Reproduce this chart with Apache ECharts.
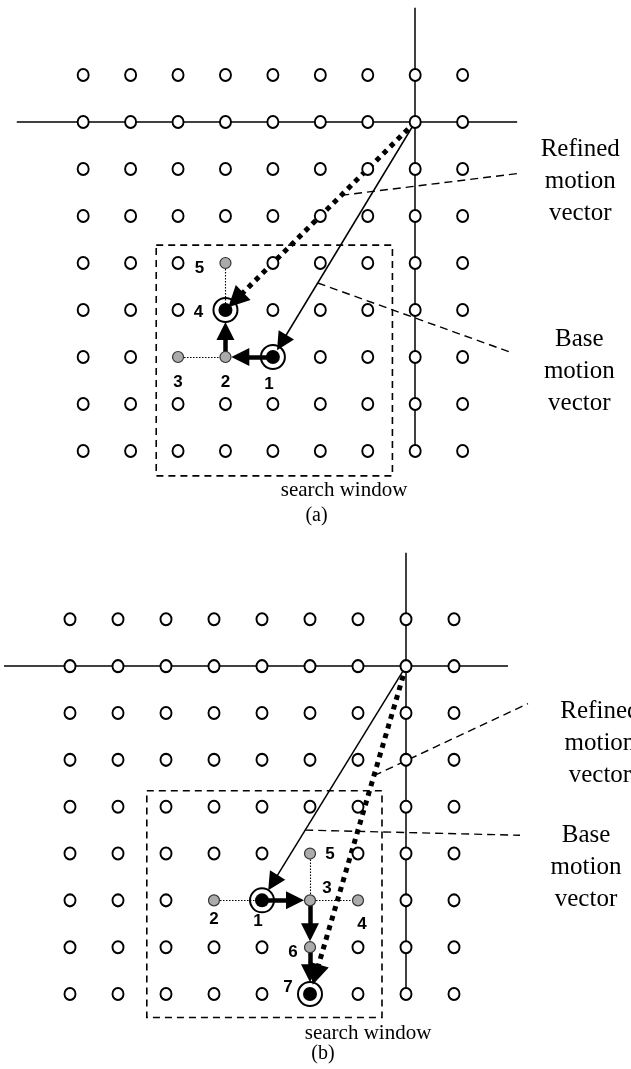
<!DOCTYPE html>
<html>
<head>
<meta charset="utf-8">
<script src="https://cdn.jsdelivr.net/npm/echarts@6/dist/echarts.min.js"></script>
<style>
html, body { margin: 0; padding: 0; background: #fff; }
#chart { width: 631px; height: 1069px; }
</style>
</head>
<body>
<div id="chart"></div>
<script>
// Integer-pel lattice shown in each panel (column / row indices)
const gridCols = [0, 1, 2, 3, 4, 5, 6, 7, 8];
const gridRows = [0, 1, 2, 3, 4, 5, 6, 7, 8];

// Zero-motion position, where the two reference lines cross
const originA = [7, 1];
const originB = [7, 1];

// Extent of the reference lines: [from, to] in lattice units
const hLineA = [-1.4, 9.15];
const vLineA = [-1.43, 8];
const hLineB = [-1.375, 9.125];
const vLineB = [-1.42, 8];

// Candidate positions checked during refinement, numbered in order
const candidatesA = [[4, 6], [3, 6], [2, 6], [3, 5], [3, 4]];
const candidateLabelsA = ['1', '2', '3', '4', '5'];
const candidatesB = [[4, 6], [3, 6], [5, 6], [6, 6], [5, 5], [5, 7], [5, 8]];
const candidateLabelsB = ['1', '2', '3', '4', '5', '6', '7'];

// Ringed candidates: base-vector target first, refined result second
const ringedA = [0, 3];
const ringedB = [0, 6];

// Accepted refinement steps (candidate index -> candidate index)
const movesA = [[0, 1], [1, 3]];
const movesB = [[0, 2], [2, 5], [5, 6]];

// Rejected probes, joined by thin dotted links
const probesA = [[2, 1], [4, 3]];
const probesB = [[1, 0], [2, 3], [4, 2]];

// Search window: [colMin, rowMin, colMax, rowMax]
const windowA = [1.54, 3.62, 6.52, 8.53];
const windowB = [1.6, 3.66, 6.5, 8.5];

// Label offsets of the candidate numbers [dx, dy] in px
const numberOffsetA = [[-4, 27], [0, 25], [0, 25], [-27, 2], [-26, 5]];
const numberOffsetB = [[-4, 21], [0, 19], [17, -12], [4, 24], [20, 1], [-17, 5], [-22, -7]];

// Callouts: fraction along the vector where the leader starts, leader end point
const calloutRefinedA = { t: 0.39, end: [9.21, 2.09], text: 'Refined\nmotion\nvector', at: [10.48, 2.26] };
const calloutBaseA = { t: 0.685, end: [9.04, 5.91], text: 'Base\nmotion\nvector', at: [10.46, 6.30] };
const calloutRefinedB = { t: 0.334, end: [9.54, 1.80], text: 'Refined\nmotion\nvector', at: [11.04, 2.64] };
const calloutBaseB = { t: 0.70, end: [9.375, 4.61], text: 'Base\nmotion\nvector', at: [10.75, 5.29] };

const captionA = { window: [5.5, 8.83], tag: '(a)', tagAt: [4.92, 9.38] };
const captionB = { window: [6.21, 8.85], tag: '(b)', tagAt: [5.27, 9.28] };

// Pixel size of one lattice step in each panel
const cellA = [48, 47];
const cellB = [48, 47.3];

const SERIF = "'Liberation Serif', 'Times New Roman', serif";
const SANS = "'Liberation Sans', Arial, sans-serif";

// Pull the end of a segment back by px pixels so an arrow head stops short of a marker
function pullBack(from, to, px, cell) {
  const dx = (to[0] - from[0]) * cell[0];
  const dy = (to[1] - from[1]) * cell[1];
  const len = Math.hypot(dx, dy);
  const k = 1 - px / len;
  return [from[0] + (to[0] - from[0]) * k, from[1] + (to[1] - from[1]) * k];
}
function along(from, to, t) {
  return [from[0] + (to[0] - from[0]) * t, from[1] + (to[1] - from[1]) * t];
}

function panelSeries(p, gi) {
  const ax = { xAxisIndex: gi, yAxisIndex: gi };
  const occupied = new Set(p.candidates.map(c => c.join(',')));
  const lattice = [];
  gridRows.forEach(r => gridCols.forEach(c => {
    if (!occupied.has(c + ',' + r)) lattice.push([c, r]);
  }));
  const base = p.candidates[p.ringed[0]];
  const refined = p.candidates[p.ringed[1]];
  const ringSet = new Set(p.ringed);
  const grey = p.candidates.filter((c, i) => !ringSet.has(i));
  const headMove = 18, headBase = 18, headRefined = 21;
  const list = [];

  // reference lines through the zero vector
  list.push(Object.assign({
    type: 'lines', coordinateSystem: 'cartesian2d', clip: false, silent: true,
    lineStyle: { color: '#000', width: 1.5, type: 'solid', opacity: 1 },
    data: [
      { coords: [[p.hLine[0], p.origin[1]], [p.hLine[1], p.origin[1]]] },
      { coords: [[p.origin[0], p.vLine[0]], [p.origin[0], p.vLine[1]]] }
    ]
  }, ax));

  // search window
  const w = p.window;
  list.push(Object.assign({
    type: 'lines', coordinateSystem: 'cartesian2d', clip: false, silent: true, polyline: true,
    lineStyle: { color: '#000', width: 1.6, type: [7, 5], opacity: 1 },
    data: [{ coords: [[w[0], w[1]], [w[2], w[1]], [w[2], w[3]], [w[0], w[3]], [w[0], w[1]]] }]
  }, ax));

  // callout leaders
  list.push(Object.assign({
    type: 'lines', coordinateSystem: 'cartesian2d', clip: false, silent: true,
    lineStyle: { color: '#000', width: 1.4, type: [8, 5], opacity: 1 },
    data: [
      { coords: [along(p.origin, refined, p.calloutRefined.t), p.calloutRefined.end] },
      { coords: [along(p.origin, base, p.calloutBase.t), p.calloutBase.end] }
    ]
  }, ax));

  // rejected probes
  list.push(Object.assign({
    type: 'lines', coordinateSystem: 'cartesian2d', clip: false, silent: true,
    lineStyle: { color: '#000', width: 1.1, type: [1.5, 1.5], opacity: 1 },
    data: p.probes.map(([a, b]) => ({ coords: [p.candidates[a], p.candidates[b]] }))
  }, ax));

  // open lattice positions
  list.push(Object.assign({
    type: 'scatter', clip: false, silent: true,
    symbol: 'circle', symbolSize: [11, 12],
    itemStyle: { color: '#fff', borderColor: '#000', borderWidth: 2, opacity: 1 },
    data: lattice
  }, ax));

  // grey candidate dots
  list.push(Object.assign({
    type: 'scatter', clip: false, silent: true,
    symbol: 'circle', symbolSize: 11,
    itemStyle: { color: '#ababab', borderColor: '#333', borderWidth: 1.2, opacity: 1 },
    data: grey
  }, ax));

  // rings around base target and refined result
  list.push(Object.assign({
    type: 'scatter', clip: false, silent: true,
    symbol: 'circle', symbolSize: 24,
    itemStyle: { color: 'rgba(255,255,255,0)', borderColor: '#000', borderWidth: 2, opacity: 1 },
    data: p.ringed.map(i => p.candidates[i])
  }, ax));
  list.push(Object.assign({
    type: 'scatter', clip: false, silent: true,
    symbol: 'circle', symbolSize: 14,
    itemStyle: { color: '#000', opacity: 1 },
    data: p.ringed.map(i => p.candidates[i])
  }, ax));

  // base motion vector
  list.push(Object.assign({
    type: 'lines', coordinateSystem: 'cartesian2d', clip: false, silent: true,
    symbol: ['none', 'triangle'], symbolSize: headBase,
    lineStyle: { color: '#000', width: 1.5, type: 'solid', opacity: 1 },
    data: [{ coords: [p.origin, pullBack(p.origin, base, p.baseGap + headBase / 2, p.cell)] }]
  }, ax));

  // refined motion vector
  list.push(Object.assign({
    type: 'lines', coordinateSystem: 'cartesian2d', clip: false, silent: true,
    symbol: ['none', 'triangle'], symbolSize: headRefined,
    lineStyle: { color: '#000', width: 5, type: [5, 5], cap: 'butt', opacity: 1 },
    data: [{ coords: [p.origin, pullBack(p.origin, refined, p.refinedGap + headRefined / 2, p.cell)] }]
  }, ax));

  // accepted steps
  list.push(Object.assign({
    type: 'lines', coordinateSystem: 'cartesian2d', clip: false, silent: true,
    symbol: ['none', 'triangle'], symbolSize: headMove,
    lineStyle: { color: '#000', width: 4.5, type: 'solid', opacity: 1 },
    data: p.moves.map(([a, b]) => {
      const gap = ringSet.has(b) ? 12 : 6;
      return { coords: [p.candidates[a], pullBack(p.candidates[a], p.candidates[b], gap + headMove / 2, p.cell)] };
    })
  }, ax));

  // candidate numbers
  list.push(Object.assign({
    type: 'scatter', clip: false, silent: true, symbolSize: 0,
    itemStyle: { opacity: 1 },
    label: { show: true, position: 'inside', fontFamily: SANS, fontWeight: 'bold', fontSize: 17, color: '#000' },
    data: p.candidates.map((c, i) => ({
      value: c,
      label: { formatter: p.labels[i], offset: p.numberOffset[i] }
    }))
  }, ax));

  // text annotations
  const texts = [
    { at: p.calloutRefined.at, text: p.calloutRefined.text, size: 25, lh: 32 },
    { at: p.calloutBase.at, text: p.calloutBase.text, size: 25, lh: 32 },
    { at: p.caption.window, text: 'search window', size: 21, lh: 24 },
    { at: p.caption.tagAt, text: p.caption.tag, size: 20, lh: 24 }
  ];
  list.push(Object.assign({
    type: 'scatter', clip: false, silent: true, symbolSize: 0,
    itemStyle: { opacity: 1 },
    data: texts.map(t => ({
      value: t.at,
      label: { show: true, position: 'inside', formatter: t.text, fontFamily: SERIF,
               fontSize: t.size, lineHeight: t.lh, color: '#000', align: 'center' }
    }))
  }, ax));

  return list;
}

const panelA = {
  origin: originA, hLine: hLineA, vLine: vLineA, candidates: candidatesA, labels: candidateLabelsA,
  ringed: ringedA, moves: movesA, probes: probesA, window: windowA, numberOffset: numberOffsetA,
  calloutRefined: calloutRefinedA, calloutBase: calloutBaseA, caption: captionA, cell: cellA,
  baseGap: 8, refinedGap: 4
};
const panelB = {
  origin: originB, hLine: hLineB, vLine: vLineB, candidates: candidatesB, labels: candidateLabelsB,
  ringed: ringedB, moves: movesB, probes: probesB, window: windowB, numberOffset: numberOffsetB,
  calloutRefined: calloutRefinedB, calloutBase: calloutBaseB, caption: captionB, cell: cellB,
  baseGap: 12, refinedGap: 10
};

// Axis windows (lattice units) and the pixel origin of lattice point (0,0)
const xRange = [-1.45, 11.55];
const yRange = [-1.5, 9.6];
const originPxA = [84, 75];
const originPxB = [70, 620];

function gridFor(o, cell) {
  return {
    left: o[0] + xRange[0] * cell[0],
    top: o[1] + yRange[0] * cell[1],
    width: (xRange[1] - xRange[0]) * cell[0],
    height: (yRange[1] - yRange[0]) * cell[1],
    containLabel: false
  };
}
function axisPair(i) {
  return {
    x: { type: 'value', gridIndex: i, min: xRange[0], max: xRange[1], show: false },
    y: { type: 'value', gridIndex: i, min: yRange[0], max: yRange[1], inverse: true, show: false }
  };
}
const a0 = axisPair(0), a1 = axisPair(1);

const chart = echarts.init(document.getElementById('chart'), null, { renderer: 'canvas' });
chart.setOption({
  animation: false,
  backgroundColor: '#fff',
  grid: [gridFor(originPxA, cellA), gridFor(originPxB, cellB)],
  xAxis: [a0.x, a1.x],
  yAxis: [a0.y, a1.y],
  series: panelSeries(panelA, 0).concat(panelSeries(panelB, 1))
});
</script>
</body>
</html>
